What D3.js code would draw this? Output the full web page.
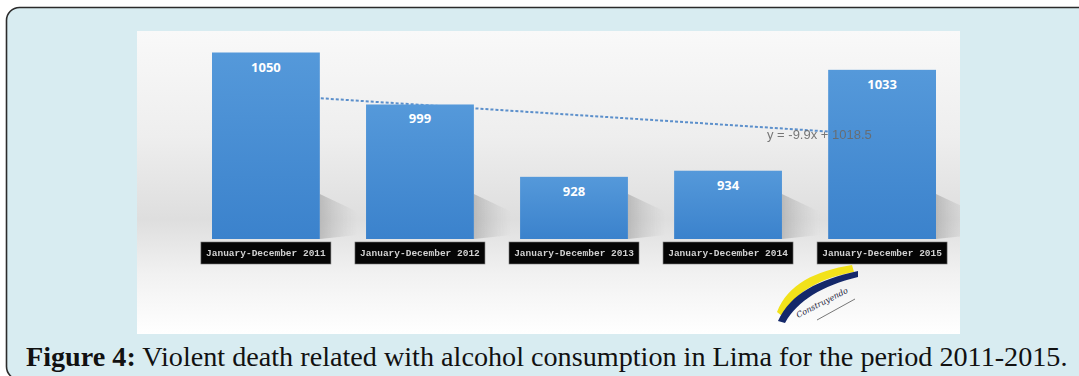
<!DOCTYPE html>
<html>
<head>
<meta charset="utf-8">
<script src="https://cdn.jsdelivr.net/npm/d3@7"></script>
<style>
  html, body { margin: 0; padding: 0; background: #ffffff; }
  svg { display: block; }
</style>
</head>
<body>
<svg id="chart" width="1079" height="376"></svg>
<script>
// ---- data ----
const categories = [
  "January-December 2011",
  "January-December 2012",
  "January-December 2013",
  "January-December 2014",
  "January-December 2015"
];
const values = [1050, 999, 928, 934, 1033];
const valueLabels = ["1050", "999", "928", "934", "1033"];
const trendIndex = [0, 4];            // first and last category
const trendValues = [1008.6, 969.0];  // y = -9.9x + 1018.5 at x = 1 and x = 5
const trendLabel = "y = -9.9x + 1018.5";
const captionBold = "Figure 4:";
const captionRest = " Violent death related with alcohol consumption in Lima for the period 2011-2015.";
const logoText = "Construyendo";

// ---- layout ----
const svg = d3.select("#chart");

// outer panel
svg.append("rect")
  .attr("x", 6.5).attr("y", 7.5)
  .attr("width", 1110).attr("height", 372)
  .attr("rx", 13).attr("ry", 13)
  .attr("fill", "#d8ecf1")
  .attr("stroke", "#2b2b2b")
  .attr("stroke-width", 1.6);

const defs = svg.append("defs");

const pic = { x: 137, y: 31, w: 823, h: 303 };

defs.append("clipPath").attr("id", "picClip")
  .append("rect")
  .attr("x", pic.x).attr("y", pic.y)
  .attr("width", pic.w).attr("height", pic.h);

// inner picture background
const bg = defs.append("linearGradient").attr("id", "bgGrad")
  .attr("x1", 0).attr("y1", 0).attr("x2", 0).attr("y2", 1);
bg.append("stop").attr("offset", "0%").attr("stop-color", "#f9f9f9");
bg.append("stop").attr("offset", "35%").attr("stop-color", "#eeeeee");
bg.append("stop").attr("offset", "62%").attr("stop-color", "#dedede");
bg.append("stop").attr("offset", "80%").attr("stop-color", "#f1f1f1");
bg.append("stop").attr("offset", "100%").attr("stop-color", "#ffffff");

const barGrad = defs.append("linearGradient").attr("id", "barGrad")
  .attr("x1", 0).attr("y1", 0).attr("x2", 0).attr("y2", 1);
barGrad.append("stop").attr("offset", "0%").attr("stop-color", "#5599da");
barGrad.append("stop").attr("offset", "100%").attr("stop-color", "#3b82cc");

const shadowGrad = defs.append("linearGradient").attr("id", "shadowGrad")
  .attr("x1", 0).attr("y1", 0).attr("x2", 1).attr("y2", 0);
shadowGrad.append("stop").attr("offset", "0%").attr("stop-color", "#9a9a9a").attr("stop-opacity", 0.55);
shadowGrad.append("stop").attr("offset", "100%").attr("stop-color", "#bbbbbb").attr("stop-opacity", 0);

const blur = defs.append("filter").attr("id", "soft");
blur.append("feGaussianBlur").attr("stdDeviation", 0.6);

svg.append("rect")
  .attr("x", pic.x).attr("y", pic.y)
  .attr("width", pic.w).attr("height", pic.h)
  .attr("fill", "url(#bgGrad)");

// scales
const x = d3.scaleBand()
  .domain(categories)
  .range([212, 936])
  .paddingInner(0.3)
  .paddingOuter(0);

const y = d3.scaleLinear()
  .domain([867, 1050])
  .range([239, 52.5]);

const g = svg.append("g").attr("clip-path", "url(#picClip)");

// bar shadows (diagonal, to the lower right of each bar)
g.selectAll("path.shadow")
  .data(values)
  .join("path")
  .attr("class", "shadow")
  .attr("d", (d, i) => {
    const x1 = x(categories[i]) + x.bandwidth();
    const yb = y(867);
    const top = Math.max(y(d), yb - 45);
    return `M${x1},${top} L${x1 + 38},${top + 18} L${x1 + 38},${yb - 4} L${x1},${yb} Z`;
  })
  .attr("fill", "url(#shadowGrad)")
  .attr("filter", "url(#soft)");

// trend line (behind bars)
const trendLine = d3.line()
  .x(d => x(categories[d[0]]) + x.bandwidth() / 2)
  .y(d => y(d[1]));
g.append("path")
  .datum(trendIndex.map((k, i) => [k, trendValues[i]]))
  .attr("d", trendLine)
  .attr("fill", "none")
  .attr("stroke", "#5b8fcb")
  .attr("stroke-width", 2)
  .attr("stroke-dasharray", "3,2");

// bars
g.selectAll("rect.bar")
  .data(values)
  .join("rect")
  .attr("class", "bar")
  .attr("x", (d, i) => x(categories[i]))
  .attr("y", d => y(d))
  .attr("width", x.bandwidth())
  .attr("height", d => y(867) - y(d))
  .attr("fill", "url(#barGrad)");

// value labels
g.selectAll("text.val")
  .data(values)
  .join("text")
  .attr("class", "val")
  .attr("x", (d, i) => x(categories[i]) + x.bandwidth() / 2)
  .attr("y", d => y(d) + 19)
  .attr("text-anchor", "middle")
  .attr("fill", "#ffffff")
  .attr("font-family", "'Open Sans', 'Liberation Sans', sans-serif")
  .attr("font-weight", "bold")
  .attr("font-size", 13)
  .text((d, i) => valueLabels[i]);

// trend equation label
g.append("text")
  .attr("x", 767)
  .attr("y", 139)
  .attr("fill", "#6a6a6a")
  .attr("font-family", "'Liberation Sans', sans-serif")
  .attr("font-size", 13)
  .attr("opacity", 0.9)
  .text(trendLabel);

// category labels in black boxes
const catG = g.selectAll("g.cat")
  .data(categories)
  .join("g")
  .attr("class", "cat")
  .attr("transform", d => `translate(${x(d) + x.bandwidth() / 2},253)`);
catG.append("rect")
  .attr("x", -65).attr("y", -11)
  .attr("width", 130).attr("height", 22)
  .attr("fill", "#050505")
  .attr("stroke", "#777")
  .attr("stroke-width", 0.6);
catG.append("text")
  .attr("text-anchor", "middle")
  .attr("dy", "0.35em")
  .attr("fill", "#d0d0d0")
  .attr("font-family", "'Liberation Mono', 'DejaVu Sans Mono', monospace")
  .attr("font-size", 9.5)
  .attr("font-weight", "bold")
  .attr("filter", "url(#soft)")
  .text(d => d);

// logo (decoration)
const logo = svg.append("g");
logo.append("path")
  .attr("d", "M777,312 C788,284 815,271 852,265 L854,272 C820,278 795,292 782,316 Z")
  .attr("fill", "#f2e21a");
logo.append("path")
  .attr("d", "M778,321 C791,293 818,280 858,271 L858,277 C822,286 798,300 785,323 Z")
  .attr("fill", "#14286a");
logo.append("text")
  .attr("transform", "translate(798,318) rotate(-27)")
  .attr("font-family", "'DejaVu Serif', serif")
  .attr("font-style", "italic")
  .attr("font-size", 8)
  .attr("fill", "#1b1b3a")
  .text(logoText);
logo.append("line")
  .attr("x1", 817).attr("y1", 320)
  .attr("x2", 855).attr("y2", 299)
  .attr("stroke", "#555")
  .attr("stroke-width", 0.8);

// caption
const cap = svg.append("text")
  .attr("x", 26)
  .attr("y", 366)
  .attr("font-family", "'Liberation Serif', serif")
  .attr("font-size", 22)
  .attr("fill", "#111");
cap.append("tspan").attr("font-weight", "bold").text(captionBold);
cap.append("tspan").text(captionRest);
// fit caption width to the panel text width
const targetW = 1042;
const w0 = cap.node().getComputedTextLength();
cap.attr("font-size", 22 * targetW / w0);
</script>
</body>
</html>
